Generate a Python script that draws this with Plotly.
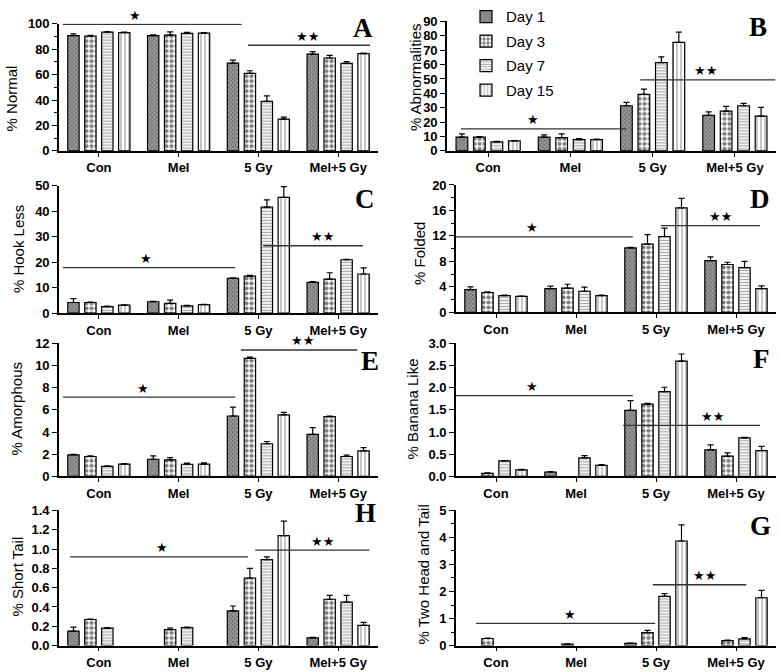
import plotly.graph_objects as go

# ---------------- data ----------------
groups = ["Con", "Mel", "5 Gy", "Mel+5 Gy"]
days = ["Day 1", "Day 3", "Day 7", "Day 15"]

# A: % Normal
normal_d1 = [90.5, 90.5, 69.0, 76.0]
normal_d3 = [90.3, 91.0, 61.0, 73.0]
normal_d7 = [93.3, 92.3, 39.0, 68.8]
normal_d15 = [93.0, 92.6, 25.0, 76.4]
normal_e1 = [1.5, 0.6, 2.3, 2.0]
normal_e3 = [0.4, 2.6, 2.0, 2.0]
normal_e7 = [0.4, 0.8, 4.2, 1.3]
normal_e15 = [0.3, 0.3, 1.5, 0.5]

# B: % Abnormalities
abn_d1 = [9.6, 9.6, 31.4, 24.7]
abn_d3 = [9.6, 9.2, 39.3, 27.6]
abn_d7 = [6.3, 7.9, 61.3, 31.4]
abn_d15 = [7.0, 7.9, 75.4, 24.2]
abn_e1 = [2.2, 1.5, 2.3, 2.5]
abn_e3 = [0.4, 2.7, 3.6, 3.4]
abn_e7 = [0.3, 0.6, 4.0, 1.6]
abn_e15 = [0.2, 0.3, 7.2, 6.1]

# C: % Hook Less
hook_d1 = [4.2, 4.5, 13.7, 12.1]
hook_d3 = [4.2, 3.9, 14.6, 13.4]
hook_d7 = [2.6, 2.9, 41.7, 21.0]
hook_d15 = [3.2, 3.4, 45.5, 15.4]
hook_e1 = [1.5, 0.2, 0.2, 0.3]
hook_e3 = [0.2, 1.2, 0.3, 2.5]
hook_e7 = [0.2, 0.2, 2.8, 0.2]
hook_e15 = [0.1, 0.1, 4.2, 2.4]

# D: % Folded
fold_d1 = [3.55, 3.7, 10.1, 8.1]
fold_d3 = [3.1, 3.8, 10.7, 7.5]
fold_d7 = [2.6, 3.3, 11.9, 7.0]
fold_d15 = [2.5, 2.6, 16.4, 3.7]
fold_e1 = [0.45, 0.4, 0.1, 0.6]
fold_e3 = [0.1, 0.6, 1.5, 0.35]
fold_e7 = [0.1, 0.65, 1.3, 1.0]
fold_e15 = [0.05, 0.1, 1.5, 0.45]

# E: % Amorphous
amor_d1 = [1.95, 1.55, 5.45, 3.8]
amor_d3 = [1.8, 1.5, 10.65, 5.4]
amor_d7 = [0.9, 1.1, 2.95, 1.8]
amor_d15 = [1.12, 1.12, 5.55, 2.3]
amor_e1 = [0.05, 0.3, 0.8, 0.6]
amor_e3 = [0.05, 0.2, 0.1, 0.05]
amor_e7 = [0.05, 0.1, 0.2, 0.12]
amor_e15 = [0.05, 0.1, 0.22, 0.3]

# F: % Banana Like (None = no bar shown)
ban_d1 = [None, 0.1, 1.49, 0.6]
ban_d3 = [0.07, None, 1.63, 0.46]
ban_d7 = [0.35, 0.42, 1.91, 0.87]
ban_d15 = [0.15, 0.25, 2.6, 0.58]
ban_e1 = [0.0, 0.01, 0.22, 0.11]
ban_e3 = [0.01, 0.0, 0.02, 0.07]
ban_e7 = [0.01, 0.05, 0.1, 0.01]
ban_e15 = [0.01, 0.02, 0.16, 0.1]

# H: % Short Tail
short_d1 = [0.15, None, 0.36, 0.08]
short_d3 = [0.27, 0.165, 0.70, 0.48]
short_d7 = [0.18, 0.185, 0.89, 0.45]
short_d15 = [None, None, 1.14, 0.21]
short_e1 = [0.04, 0.0, 0.05, 0.005]
short_e3 = [0.005, 0.015, 0.1, 0.04]
short_e7 = [0.005, 0.005, 0.03, 0.07]
short_e15 = [0.0, 0.0, 0.15, 0.03]

# G: % Two Head and Tail
two_d1 = [None, None, 0.08, None]
two_d3 = [0.26, 0.05, 0.48, 0.18]
two_d7 = [None, None, 1.82, 0.25]
two_d15 = [None, None, 3.87, 1.77]
two_e1 = [0.0, 0.0, 0.01, 0.0]
two_e3 = [0.02, 0.01, 0.08, 0.02]
two_e7 = [0.0, 0.0, 0.1, 0.04]
two_e15 = [0.0, 0.0, 0.6, 0.27]

# significance bars: (x0, x1, y) in each panel's data units
sig_single = {"A": (-0.45, 1.79, 99.5), "B": (-0.33, 1.68, 15.3), "C": (-0.45, 1.71, 17.9),
              "D": (-0.5, 1.71, 11.85), "E": (-0.45, 1.71, 7.15), "F": (-0.5, 1.71, 1.82),
              "H": (-0.36, 1.87, 0.92), "G": (-0.25, 1.99, 0.82)}
sig_double = {"A": (1.87, 3.40, 83.0), "B": (1.85, 3.49, 49.4), "C": (2.06, 3.31, 26.5),
              "D": (2.06, 3.30, 13.6), "E": (1.78, 3.24, 11.4), "F": (1.59, 3.30, 1.15),
              "H": (1.96, 3.39, 0.99), "G": (1.96, 3.13, 2.25)}
star_single_x = {"A": 0.45, "B": 0.55, "C": 0.59, "D": 0.45, "E": 0.55, "F": 0.45, "H": 0.79, "G": 0.93}
star_double_x = {"A": 2.62, "B": 2.64, "C": 2.80, "D": 2.80, "E": 2.55, "F": 2.71, "H": 2.80, "G": 2.61}

W, H = 778, 672

def fx(px):
    return px / W

def fy(py):
    return 1 - py / H

# panel configs: key, title, values, errors, ymax, dtick, minor, fmt, x-domain px, y-domain px, title pos px, letter pos px
panels = [
    ("A", "% Normal", [normal_d1, normal_d3, normal_d7, normal_d15], [normal_e1, normal_e3, normal_e7, normal_e15],
     100, 20, 10, "d", (59, 378), (13, 144), (11, 90), (363, 17)),
    ("B", "% Abnormalities", [abn_d1, abn_d3, abn_d7, abn_d15], [abn_e1, abn_e3, abn_e7, abn_e15],
     90, 10, None, "d", (447, 776), (10.7, 144), (415, 68), (758, 16)),
    ("C", "% Hook Less", [hook_d1, hook_d3, hook_d7, hook_d15], [hook_e1, hook_e3, hook_e7, hook_e15],
     50, 10, None, "d", (59, 378), (180, 311), (18, 245), (365, 193)),
    ("D", "% Folded", [fold_d1, fold_d3, fold_d7, fold_d15], [fold_e1, fold_e3, fold_e7, fold_e15],
     20, 4, 2, "d", (456, 776), (179, 310), (420, 250), (760, 193)),
    ("E", "% Amorphous", [amor_d1, amor_d3, amor_d7, amor_d15], [amor_e1, amor_e3, amor_e7, amor_e15],
     12, 2, None, "d", (59, 378), (342, 479), (16, 410), (370, 360)),
    ("F", "% Banana Like", [ban_d1, ban_d3, ban_d7, ban_d15], [ban_e1, ban_e3, ban_e7, ban_e15],
     3.0, 0.5, None, ".1f", (456, 776), (342, 479), (412, 410), (761, 358)),
    ("H", "% Short Tail", [short_d1, short_d3, short_d7, short_d15], [short_e1, short_e3, short_e7, short_e15],
     1.4, 0.2, None, ".1f", (59, 378), (514, 653), (18, 582), (365, 517)),
    ("G", "% Two Head and Tail", [two_d1, two_d3, two_d7, two_d15], [two_e1, two_e3, two_e7, two_e15],
     5, 1, 0.5, "d", (456, 776), (514, 653), (424, 580), (760, 530)),
]

patterns = [
    dict(color="#8a8a8a", pattern=dict(shape="x", fgcolor="#2a2a2a", bgcolor="#9a9a9a", size=3, solidity=0.4)),
    dict(color="white", pattern=dict(shape=".", fgcolor="black", bgcolor="white", size=5, solidity=0.55)),
    dict(color="white", pattern=dict(shape="-", fgcolor="#555555", bgcolor="white", size=3, solidity=0.45)),
    dict(color="white", pattern=dict(shape="|", fgcolor="black", bgcolor="white", size=4, solidity=0.22)),
]

fig = go.Figure()
annotations = []
shapes = []
tickfont = dict(family="Arial, Liberation Sans", size=13, color="black", weight="bold")

for i, (key, title, vals, errs, ymax, dtick, minor, fmt, xd, yd, tpos, lpos) in enumerate(panels):
    n = i + 1
    xa = "x" if n == 1 else f"x{n}"
    ya = "y" if n == 1 else f"y{n}"
    for d in range(4):
        fig.add_trace(go.Bar(
            x=groups, y=vals[d], name=days[d], xaxis=xa, yaxis=ya,
            marker=dict(color=patterns[d]["color"], pattern=patterns[d]["pattern"],
                        line=dict(color="black", width=1.2)),
            error_y=dict(type="data", array=errs[d], arrayminus=[0] * 4, symmetric=False,
                         color="black", thickness=1.2, width=3),
            showlegend=(key == "B"), legendgroup=days[d],
        ))
    xname = "xaxis" if n == 1 else f"xaxis{n}"
    yname = "yaxis" if n == 1 else f"yaxis{n}"
    fig.layout[xname] = dict(domain=[fx(xd[0]), fx(xd[1])], anchor=ya, type="category",
                             range=[-0.5, 3.5], showline=True, linecolor="black", linewidth=1.6,
                             ticks="outside", ticklen=4, tickwidth=1.4, tickcolor="black",
                             tickfont=tickfont, showgrid=False, zeroline=False, fixedrange=True)
    ydict = dict(domain=[fy(yd[1]), fy(yd[0])], anchor=xa, range=[0, ymax], dtick=dtick, tick0=0,
                 showline=True, linecolor="black", linewidth=1.6, ticks="outside", ticklen=5,
                 tickwidth=1.4, tickcolor="black", tickfont=tickfont, showgrid=False,
                 zeroline=False, tickformat=fmt, fixedrange=True)
    if minor:
        ydict["minor"] = dict(dtick=minor, ticks="outside", ticklen=3, tickcolor="black", tickwidth=1.2)
    fig.layout[yname] = ydict

    # y title
    annotations.append(dict(text=title, x=fx(tpos[0]), y=fy(tpos[1]), xref="paper", yref="paper",
                            textangle=-90, showarrow=False, xanchor="center", yanchor="middle",
                            font=dict(family="Liberation Sans Narrow, Arial Narrow, Liberation Sans",
                                      size=15, color="black")))
    # panel letter
    annotations.append(dict(text=key, x=fx(lpos[0]), y=fy(lpos[1]), xref="paper", yref="paper",
                            showarrow=False, xanchor="center", yanchor="middle",
                            font=dict(family="Liberation Serif, Times New Roman", size=27,
                                      color="black", weight="bold")))
    # significance lines
    for sig, sx, label in ((sig_single[key], star_single_x[key], "★"),
                           (sig_double[key], star_double_x[key], "★★")):
        shapes.append(dict(type="line", xref=xa, yref=ya, x0=sig[0], x1=sig[1], y0=sig[2], y1=sig[2],
                           line=dict(color="#333333", width=1.3)))
        annotations.append(dict(text=label, x=sx, y=sig[2], xref=xa, yref=ya, showarrow=False,
                                yshift=9, xanchor="center", yanchor="middle",
                                font=dict(family="DejaVu Sans", size=13, color="black")))

fig.update_layout(
    width=W, height=H, margin=dict(l=0, r=0, t=0, b=0),
    paper_bgcolor="white", plot_bgcolor="white",
    barmode="group", bargap=0.15, bargroupgap=0.33,
    annotations=annotations, shapes=shapes,
    legend=dict(x=fx(466), y=1 + 11 / H, xanchor="left", yanchor="top", bgcolor="rgba(0,0,0,0)",
                font=dict(family="Arial, Liberation Sans", size=15, color="black"),
                tracegroupgap=2, itemwidth=30),
)

fig.write_html("out.html", config={"displayModeBar": False},
               post_script="document.body.style.margin='0px';document.body.style.padding='0px';"
                           "document.body.style.overflow='hidden';")
